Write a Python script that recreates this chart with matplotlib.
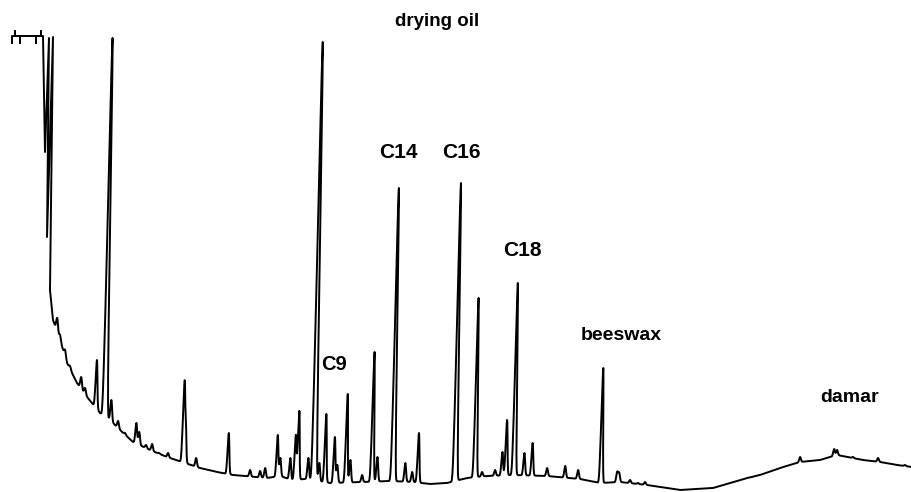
import matplotlib
matplotlib.use("Agg")
import matplotlib.pyplot as plt
import numpy as np

# recorder trace, in chart units: x = retention (px along the paper), y = detector response
# pen start with the injection marks and the solvent front (y read top-down)
head_x = [12, 12, 15, 15, 15, 20, 20, 20, 36, 36, 36, 41, 41, 41, 43, 45, 49, 47, 53, 50]
head_y = [43, 36, 36, 31, 36, 36, 43, 36, 36, 43, 36, 36, 31, 36, 36, 152, 38, 237, 37, 290]

# baseline drift (y read top-down)
base_x = [50, 53, 60, 67, 77, 87, 100, 110, 120, 133, 150, 167, 182, 200, 217, 233,
          267, 280, 292, 305, 330, 363, 390, 413, 430, 447, 467, 487, 513, 547, 580,
          600, 620, 647, 680, 713, 747, 760, 780, 800, 820, 837, 863, 880, 897, 912]
base_y = [290, 320, 340, 363, 383, 397, 413, 420, 430, 442, 450, 457, 462, 468, 472, 475,
          478, 476, 480, 479, 483, 482, 481, 482, 484, 483, 478, 476, 475, 476, 479,
          483, 482, 485, 490, 488, 478, 475, 468, 462, 460, 455, 460, 462, 465, 467]

# peaks: retention and top of the peak (y read top-down)
peak_x = [57, 60, 65, 70, 81, 85, 96, 105, 111, 118, 125, 136, 139, 146, 152, 159, 168,
          183, 185, 196, 228, 250, 260, 265, 277, 280, 290, 295, 298, 308, 314, 319, 325,
          334, 337, 346, 350, 362, 372, 377, 393, 405, 412, 418, 455, 475, 482, 495, 502,
          506, 514, 524, 532, 547, 565, 578, 601, 617, 619, 630, 638, 645, 752, 800, 834,
          837, 853, 878, 905]
peak_top = [318, 335, 350, 366, 377, 388, 360, 38, 400, 421, 433, 423, 432, 445, 444, 453,
            453, 383, 425, 458, 433, 470, 471, 468, 435, 458, 458, 435, 411, 458, 42, 463,
            414, 437, 465, 394, 460, 475, 352, 457, 188, 463, 472, 433, 183, 298, 472, 470,
            452, 420, 283, 453, 443, 468, 466, 470, 368, 472, 473, 480, 483, 482, 477, 457,
            449, 450, 457, 458, 465]

labels = ["drying oil", "C14", "C16", "C18", "C9", "beeswax", "damar"]
label_x = [437, 398, 461, 522, 334, 621, 850]
label_y = [22, 153, 152, 250, 364, 336, 398]
label_size = [13.5, 15, 15, 15, 14.5, 14, 14]

H = 492
t = np.arange(50, 912.01, 0.25)
base = H - np.interp(t, base_x, base_y)

signal = base.copy()
for px, top in zip(peak_x, peak_top):
    b = H - np.interp(px, base_x, base_y)
    amp = (H - top) - b
    sig = 0.85 + 0.0006 * amp
    signal += amp * np.exp(-0.5 * ((t - px) / sig) ** 2)

# pen lag makes the tall peaks lean to the right
x_pen = t + 0.02 * (signal - base)

trace_x = np.concatenate([head_x, x_pen])
trace_y = np.concatenate([H - np.array(head_y), signal])

fig = plt.figure(figsize=(9.12, 4.92), dpi=100)
ax = fig.add_axes([0, 0, 1, 1])
ax.plot(trace_x, trace_y, color="black", lw=1.4, solid_joinstyle="round")
ax.set_xlim(0, 912)
ax.set_ylim(0, H)
ax.axis("off")

for txt, lx, ly, fs in zip(labels, label_x, label_y, label_size):
    ax.text(lx, H - ly, txt, ha="center", va="center", fontsize=fs,
            family="Liberation Sans", weight="bold")

plt.savefig("out.png", dpi=100)
